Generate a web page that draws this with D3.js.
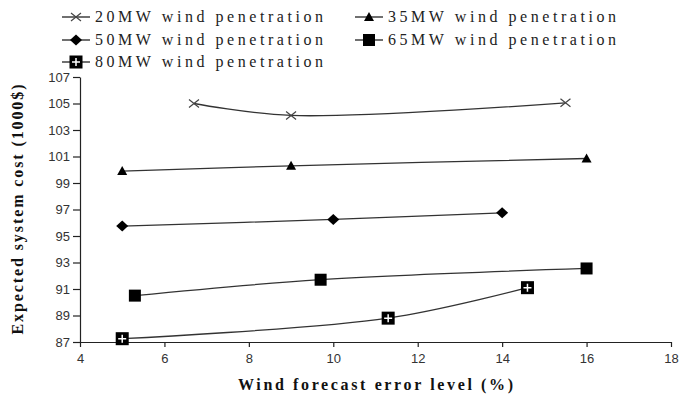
<!DOCTYPE html>
<html>
<head>
<meta charset="utf-8">
<script src="https://cdn.jsdelivr.net/npm/d3@7"></script>
<style>
  body { margin: 0; background: #fff; }
  .tick text { font-family: "Liberation Sans", Arial, sans-serif; font-size: 13px; fill: #333; }
  .axisTitle { font-family: "Liberation Serif", "Times New Roman", serif; font-weight: bold; font-size: 16px; fill: #111; }
  .legendText { font-family: "Liberation Serif", "Times New Roman", serif; font-size: 16px; fill: #222; }
</style>
</head>
<body>
<div id="chart"></div>
<script>
var svgWidth = 679;
var svgHeight = 398;

var margin = { top: 77, right: 8, bottom: 56, left: 80 };
var width = 671 - margin.left;
var height = 342 - margin.top;

// series names and values (x = forecast error %, y = cost in 1000$)
var seriesNames = ["20MW wind penetration", "35MW wind penetration", "50MW wind penetration",
                   "65MW wind penetration", "80MW wind penetration"];
var markers = ["cross", "triangle", "diamond", "square", "squarePlus"];

var x20 = [6.7, 9.0, 15.5];
var y20 = [105.0, 104.1, 105.05];
var x35 = [5.0, 9.0, 16.0];
var y35 = [99.9, 100.3, 100.85];
var x50 = [5.0, 10.0, 14.0];
var y50 = [95.75, 96.25, 96.75];
var x65 = [5.3, 9.7, 16.0];
var y65 = [90.5, 91.7, 92.55];
var x80 = [5.0, 11.3, 14.6];
var y80 = [87.25, 88.8, 91.1];

var xTicks = [4, 6, 8, 10, 12, 14, 16, 18];
var yTicks = [87, 89, 91, 93, 95, 97, 99, 101, 103, 105, 107];

var allX = [x20, x35, x50, x65, x80];
var allY = [y20, y35, y50, y65, y80];
var series = seriesNames.map(function(name, i) {
  return {
    name: name,
    marker: markers[i],
    points: allX[i].map(function(xv, j) { return { x: xv, y: allY[i][j] }; })
  };
});

var svg = d3.select("#chart")
  .append("svg")
  .attr("width", svgWidth)
  .attr("height", svgHeight);

var chartGroup = svg.append("g")
  .attr("transform", `translate(${margin.left}, ${margin.top})`);

var xScale = d3.scaleLinear().domain([4, 18]).range([0, width]);
var yScale = d3.scaleLinear().domain([87, 107]).range([height, 0]);

// axes
var bottomAxis = d3.axisBottom(xScale).tickValues(xTicks).tickSize(5).tickPadding(7).tickSizeOuter(0);
var leftAxis = d3.axisLeft(yScale).tickValues(yTicks).tickSize(7).tickPadding(3).tickSizeOuter(0);

var xg = chartGroup.append("g")
  .attr("transform", `translate(0, ${height})`)
  .call(bottomAxis);
var yg = chartGroup.append("g").call(leftAxis);

[xg, yg].forEach(function(g) {
  g.select(".domain").attr("stroke", "#222").attr("stroke-width", 1.2);
  g.selectAll(".tick line").attr("stroke", "#222").attr("stroke-width", 1.2);
});

// marker drawing
function drawMarker(g, type) {
  if (type === "cross") {
    g.append("path").attr("d", "M-5,-4L5,4M-5,4L5,-4")
      .attr("stroke", "#444").attr("stroke-width", 1.2).attr("fill", "none");
  } else if (type === "triangle") {
    g.append("path").attr("d", "M0,-5L5,4L-5,4Z").attr("fill", "#000");
  } else if (type === "diamond") {
    g.append("path").attr("d", "M0,-5.5L6,0L0,5.5L-6,0Z").attr("fill", "#000");
  } else if (type === "square") {
    g.append("rect").attr("x", -6).attr("y", -6).attr("width", 12).attr("height", 12).attr("fill", "#000");
  } else if (type === "squarePlus") {
    g.append("rect").attr("x", -6.5).attr("y", -6.5).attr("width", 13).attr("height", 13).attr("fill", "#000");
    g.append("path").attr("d", "M-4,0L4,0M0,-4L0,4").attr("stroke", "#fff").attr("stroke-width", 1.5);
  }
}

var line = d3.line()
  .x(d => xScale(d.x))
  .y(d => yScale(d.y))
  .curve(d3.curveCatmullRom.alpha(0.5));

series.forEach(function(s) {
  chartGroup.append("path")
    .datum(s.points)
    .attr("d", line)
    .attr("fill", "none")
    .attr("stroke", "#333")
    .attr("stroke-width", 1.3);

  chartGroup.selectAll(null)
    .data(s.points)
    .enter()
    .append("g")
    .attr("transform", d => `translate(${xScale(d.x)}, ${yScale(d.y)})`)
    .each(function() { drawMarker(d3.select(this), s.marker); });
});

// legend
var legendPos = [[62, 17], [355, 17], [62, 40], [355, 40], [62, 62]];
series.forEach(function(s, i) {
  var lg = svg.append("g").attr("transform", `translate(${legendPos[i][0]}, ${legendPos[i][1]})`);
  lg.append("line").attr("x1", 0).attr("x2", 28).attr("y1", 0).attr("y2", 0)
    .attr("stroke", "#222").attr("stroke-width", 1.3);
  drawMarker(lg.append("g").attr("transform", "translate(14,0)"), s.marker);
  lg.append("text")
    .attr("class", "legendText")
    .attr("x", 33)
    .attr("y", 5)
    .attr("textLength", 228)
    .attr("lengthAdjust", "spacing")
    .text(s.name);
});

// axis titles
chartGroup.append("text")
  .attr("class", "axisTitle")
  .attr("transform", "rotate(-90)")
  .attr("x", -height / 2)
  .attr("y", -margin.left + 23)
  .attr("text-anchor", "middle")
  .attr("textLength", 250)
  .attr("lengthAdjust", "spacing")
  .text("Expected system cost (1000$)");

chartGroup.append("text")
  .attr("class", "axisTitle")
  .attr("x", xScale(11) - 80 + 80)
  .attr("y", height + 48)
  .attr("text-anchor", "middle")
  .attr("textLength", 275)
  .attr("lengthAdjust", "spacing")
  .text("Wind forecast error level (%)");
</script>
</body>
</html>
